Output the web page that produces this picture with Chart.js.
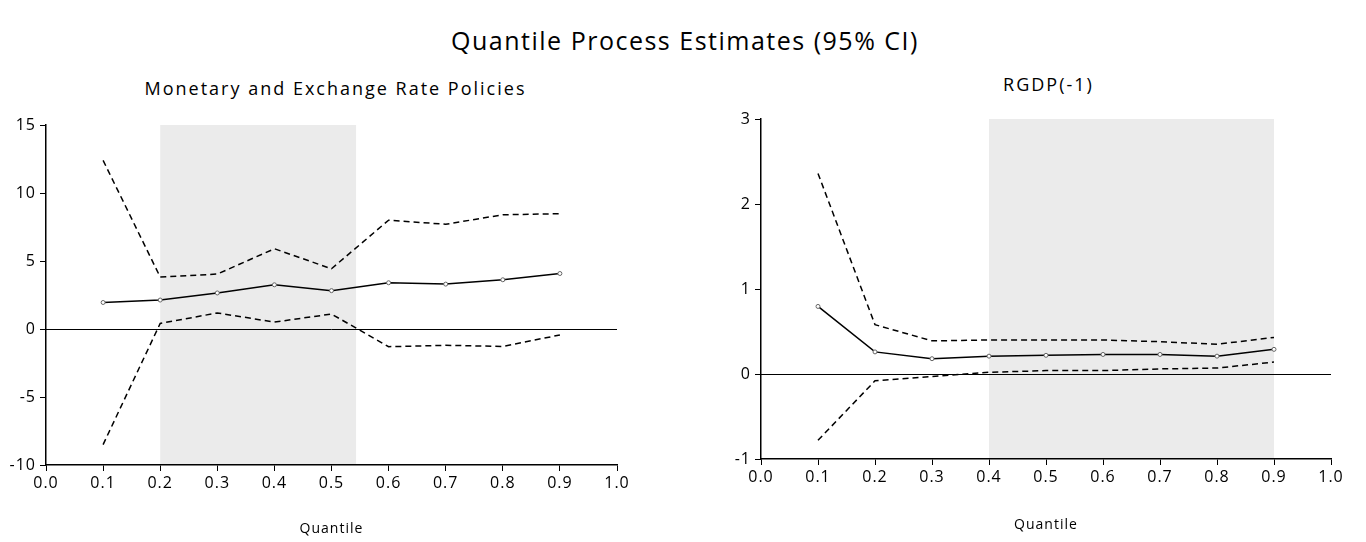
<!DOCTYPE html>
<html>
<head>
<meta charset="utf-8">
<title>Quantile Process Estimates (95% CI)</title>
<script src="https://cdn.jsdelivr.net/npm/chart.js@4.4.1/dist/chart.umd.min.js"></script>
<style>
    body {
        margin: 0;
        background: #fff;
        width: 1366px;
        height: 542px;
        overflow: hidden;
        position: relative;
        font-family: 'Open Sans', sans-serif;
    }
    #mainTitle {
        position: absolute;
        left: 2px;
        top: 22px;
        width: 1366px;
        text-align: center;
        font-size: 25px;
        letter-spacing: 1.5px;
        line-height: 36px;
        color: #000;
    }
    .subTitle {
        position: absolute;
        width: 683px;
        text-align: center;
        font-size: 18px;
        letter-spacing: 2px;
        line-height: 24px;
        color: #000;
    }
    #leftSub { left: -6px; top: 76px; }
    #rightSub { left: 707px; top: 72px; }
    .wrap { position: absolute; top: 60px; }
    #leftWrap { left: 0; }
    #rightWrap { left: 683px; }
</style>
</head>
<body>
<div id="mainTitle">Quantile Process Estimates (95% CI)</div>
<div class="subTitle" id="leftSub">Monetary and Exchange Rate Policies</div>
<div class="subTitle" id="rightSub">RGDP(-1)</div>
<div class="wrap" id="leftWrap"><canvas id="monetaryChart" width="683" height="482"></canvas></div>
<div class="wrap" id="rightWrap"><canvas id="rgdpChart" width="683" height="482"></canvas></div>
<script>
// quantiles
const quantiles = [0.1, 0.2, 0.3, 0.4, 0.5, 0.6, 0.7, 0.8, 0.9];

// Monetary and Exchange Rate Policies
const monEstimate = [1.95, 2.13, 2.65, 3.25, 2.82, 3.4, 3.3, 3.62, 4.08];
const monUpper    = [12.4, 3.82, 4.04, 5.9, 4.43, 8.0, 7.7, 8.4, 8.48];
const monLower    = [-8.5, 0.41, 1.18, 0.51, 1.1, -1.3, -1.2, -1.28, -0.44];
const monShade    = [0.2, 0.543];

// RGDP(-1)
const rgdpEstimate = [0.795, 0.26, 0.18, 0.21, 0.22, 0.23, 0.23, 0.21, 0.29];
const rgdpUpper    = [2.36, 0.58, 0.39, 0.40, 0.40, 0.40, 0.38, 0.35, 0.43];
const rgdpLower    = [-0.78, -0.08, -0.03, 0.02, 0.04, 0.04, 0.06, 0.07, 0.14];
const rgdpShade    = [0.4, 0.9];

const FONT = "'Open Sans', sans-serif";

function toPoints(values) {
    return quantiles.map((q, i) => ({ x: q, y: values[i] }));
}

// shaded quantile band, zero reference line
const bandPlugin = {
    id: 'band',
    beforeDraw(chart, args, opts) {
        const { ctx, chartArea, scales } = chart;
        ctx.letterSpacing = '1px';
        const x0 = scales.x.getPixelForValue(opts.range[0]);
        const x1 = scales.x.getPixelForValue(opts.range[1]);
        ctx.save();
        ctx.fillStyle = '#EBEBEB';
        ctx.fillRect(x0, chartArea.top, x1 - x0, chartArea.bottom - chartArea.top);
        ctx.restore();
    },
    beforeDatasetsDraw(chart) {
        const { ctx, chartArea, scales } = chart;
        const y0 = Math.round(scales.y.getPixelForValue(0)) + 0.5;
        ctx.save();
        ctx.strokeStyle = '#000';
        ctx.lineWidth = 1;
        ctx.beginPath();
        ctx.moveTo(chartArea.left, y0);
        ctx.lineTo(chartArea.right, y0);
        ctx.stroke();
        ctx.restore();
    }
};

function buildChart(id, cfg) {
    const ctx = document.getElementById(id);
    return new Chart(ctx, {
        type: 'line',
        data: {
            datasets: [
                {
                    label: 'Upper',
                    data: toPoints(cfg.upper),
                    borderColor: '#000',
                    borderWidth: 1.5,
                    borderDash: [6, 4],
                    pointRadius: 0,
                    fill: false,
                    tension: 0
                },
                {
                    label: 'Lower',
                    data: toPoints(cfg.lower),
                    borderColor: '#000',
                    borderWidth: 1.5,
                    borderDash: [6, 4],
                    pointRadius: 0,
                    fill: false,
                    tension: 0
                },
                {
                    label: 'Estimate',
                    data: toPoints(cfg.estimate),
                    borderColor: '#000',
                    borderWidth: 1.5,
                    pointRadius: 2,
                    pointBorderWidth: 1,
                    pointBorderColor: '#666',
                    pointBackgroundColor: '#fff',
                    fill: false,
                    tension: 0
                }
            ]
        },
        options: {
            responsive: false,
            animation: false,
            layout: { padding: { top: cfg.padTop, right: cfg.padRight, left: 0, bottom: 0 } },
            plugins: {
                legend: { display: false },
                tooltip: { enabled: false },
                title: { display: false },
                band: { range: cfg.shade }
            },
            scales: {
                x: {
                    type: 'linear',
                    min: 0,
                    max: 1,
                    afterFit(scale) { scale.height = cfg.xHeight; },
                    grid: { drawOnChartArea: false, drawTicks: true, tickLength: 6, color: '#000' },
                    border: { color: '#000', width: 1.5 },
                    ticks: {
                        stepSize: 0.1,
                        autoSkip: false,
                        maxRotation: 0,
                        padding: 3,
                        color: '#000',
                        font: { family: FONT, size: 16 },
                        callback: v => v.toFixed(1)
                    },
                    title: {
                        display: true,
                        text: 'Quantile',
                        color: '#000',
                        font: { family: FONT, size: 14 },
                        padding: { top: 0, bottom: cfg.xTitlePad }
                    }
                },
                y: {
                    min: cfg.yMin,
                    max: cfg.yMax,
                    afterFit(scale) { scale.width = cfg.yWidth; },
                    grid: { drawOnChartArea: false, drawTicks: true, tickLength: 6, color: '#000' },
                    border: { color: '#000', width: 1.5 },
                    ticks: {
                        stepSize: cfg.yStep,
                        padding: 4,
                        color: '#000',
                        font: { family: FONT, size: 16 }
                    }
                }
            }
        },
        plugins: [bandPlugin]
    });
}

buildChart('monetaryChart', {
    estimate: monEstimate,
    upper: monUpper,
    lower: monLower,
    shade: monShade,
    yMin: -10, yMax: 15, yStep: 5,
    yWidth: 46, xHeight: 77, padRight: 66, padTop: 65,
    xTitlePad: 5
});

buildChart('rgdpChart', {
    estimate: rgdpEstimate,
    upper: rgdpUpper,
    lower: rgdpLower,
    shade: rgdpShade,
    yMin: -1, yMax: 3, yStep: 1,
    yWidth: 78, xHeight: 83, padRight: 35, padTop: 59,
    xTitlePad: 9
});
</script>
</body>
</html>
